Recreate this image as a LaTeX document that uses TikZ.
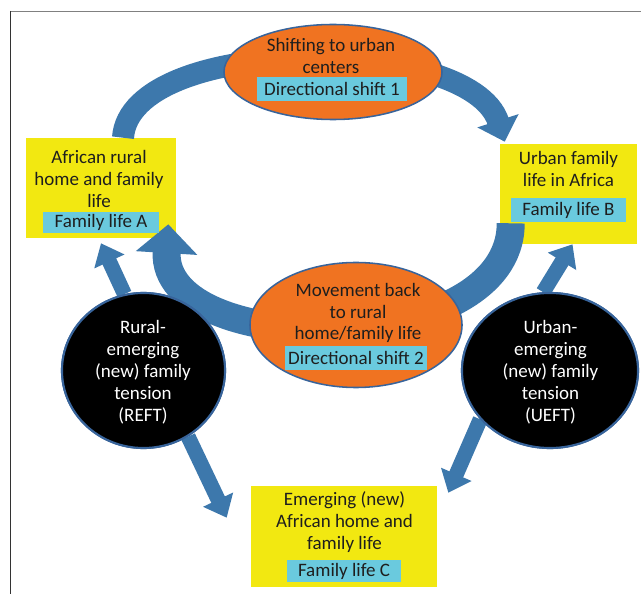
\documentclass[tikz,border=0pt]{standalone}
\usepackage{fontspec}
\setmainfont{Carlito}
\usetikzlibrary{shapes.geometric,arrows.meta,calc}
\definecolor{shiftorange}{RGB}{240,115,33}
\definecolor{famyellow}{RGB}{242,232,17}
\definecolor{tagcyan}{RGB}{106,202,222}
\definecolor{arrowblue}{RGB}{61,120,172}
\definecolor{edgeblue}{RGB}{56,100,155}
\definecolor{textdark}{RGB}{30,30,30}

\begin{document}
\begin{tikzpicture}[x=0.025cm, y=0.025cm,
  every node/.style={font=\fontsize{13.5}{15.6}\selectfont},
  famblock/.style={rectangle, fill=famyellow, inner sep=0pt},
  shiftoval/.style={ellipse, fill=shiftorange, draw=edgeblue, line width=1.1pt, inner sep=0pt},
  tensionoval/.style={ellipse, fill=black, draw=edgeblue, line width=1.5pt, inner sep=0pt},
  tag/.style={rectangle, fill=tagcyan, inner sep=0pt, text=textdark},
  words/.style={align=center, text=textdark, inner sep=0pt},
  bigarrow/.style={draw=arrowblue},
  slimarrow/.style={draw=arrowblue, line width=0.375cm, -{Triangle[width=0.8cm,length=0.5cm]}}]
\useasboundingbox (0,0) rectangle (641,594);

% frame
\draw[gray, line width=0.7pt] (10,583) -- (641,583);
\draw[black!80, line width=0.7pt] (10,583) -- (10,0);

% family life boxes
\node [famblock, minimum width=3.75cm, minimum height=2.5cm] (famA) at (101,406) {};
\node [famblock, minimum width=3.425cm, minimum height=2.5cm] (famB) at (568.5,400) {};
\node [famblock, minimum width=4.65cm, minimum height=2.525cm] (famC) at (344,57.5) {};

% arrows
\draw[bigarrow, line width=0.55cm, -{Triangle[width=1.05cm,length=0.55cm]}]
  ($(famA.north)+(22,0)$) .. controls (130,560) and (470,560) .. ($(famB.north west)+(5,2)$);
\draw[bigarrow, line width=0.7cm, -{Triangle[width=1.5cm,length=0.72cm]}]
  ($(famB.south west)+(11,21)$) .. controls (511,234) and (160,234) .. ($(famA.south east)+(-8,14)$);

% shift ovals and tension circles
\node [shiftoval, minimum width=5.45cm, minimum height=2.375cm] (shift1) at (333,522) {};
\node [shiftoval, minimum width=5.3cm, minimum height=3.125cm] (shift2) at (356,269) {};
\node [tensionoval, minimum width=4.075cm, minimum height=3.875cm] (reft) at (143.5,223.5) {};
\node [tensionoval, minimum width=4.4cm, minimum height=3.875cm] (ueft) at (550,223.5) {};

\draw[slimarrow] (reft.104) -- ($(famA.south)+(0,-5)$);
\draw[slimarrow] (reft.-56) -- ($(famC.north west)+(-24,-32)$);
\draw[slimarrow] (ueft.95) -- ($(famB.south)+(4,0)$);
\draw[slimarrow] (ueft.215) -- ($(famC.north east)+(11,-7)$);
\node [tensionoval, minimum width=4.075cm, minimum height=3.875cm] at (reft) {};
\node [tensionoval, minimum width=4.4cm, minimum height=3.875cm] at (ueft) {};

% texts
\node [words] (shift1txt) at (331,538) {Shifting to urban\\centers};
\node [tag, minimum width=3.75cm, minimum height=0.6cm] (shift1tag) at (332,505) {Directional shift 1};
\node [words] (shift2txt) at (358,281) {Movement back\\to rural\\home/family life};
\node [tag, minimum width=3.55cm, minimum height=0.6cm] (shift2tag) at (356,236) {Directional shift 2};
\node [words, text=white] (refttxt) at (143,221.5) {Rural-\\emerging\\(new) family\\tension\\(REFT)};
\node [words, text=white] (uefttxt) at (550.5,221.5) {Urban-\\emerging\\(new) family\\tension\\(UEFT)};
\node [words] (famAtxt) at (99,415) {African rural\\home and family\\life};
\node [tag, minimum width=2.9cm, minimum height=0.525cm] (famAtag) at (101,371.5) {Family life A};
\node [words] (famBtxt) at (568.5,425) {Urban family\\life in Africa};
\node [tag, minimum width=2.875cm, minimum height=0.6cm] (famBtag) at (568.5,384) {Family life B};
\node [words] (famCtxt) at (344.5,72) {Emerging (new)\\African home and\\family life};
\node [tag, minimum width=2.85cm, minimum height=0.55cm] (famCtag) at (344,23) {Family life C};
\end{tikzpicture}
\end{document}
